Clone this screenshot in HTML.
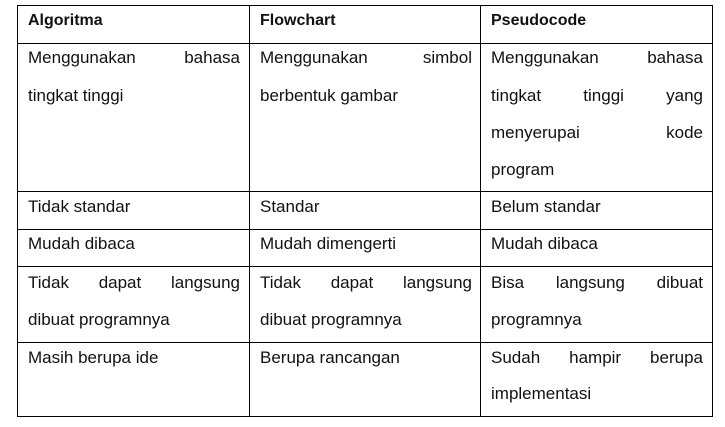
<!DOCTYPE html>
<html><head><meta charset="utf-8"><style>
body{margin:0;width:725px;height:427px;background:#fff;position:relative;overflow:hidden;font-family:"Liberation Sans",sans-serif;font-size:17px;color:#111}
.h{position:absolute;height:1px;background:#000;left:17px;width:696px}
.v{position:absolute;width:1px;background:#000;top:5px;height:412px}
.t{position:absolute;height:20px;line-height:20px;white-space:nowrap}
.j{text-align:justify;text-align-last:justify;white-space:normal}
.b{font-weight:bold;font-size:16px}
.c1{left:28px;width:212px}.c2{left:260px;width:212px}.c3{left:491px;width:212px}
</style></head><body>
<div class="h" style="top:5px"></div>
<div class="h" style="top:43px"></div>
<div class="h" style="top:191px"></div>
<div class="h" style="top:229px"></div>
<div class="h" style="top:266px"></div>
<div class="h" style="top:342px"></div>
<div class="h" style="top:416px"></div>
<div class="v" style="left:17px"></div>
<div class="v" style="left:249px"></div>
<div class="v" style="left:480px"></div>
<div class="v" style="left:712px"></div>

<div class="t b c1" style="top:11px">Algoritma</div>
<div class="t b c2" style="top:11px">Flowchart</div>
<div class="t b c3" style="top:11px">Pseudocode</div>

<div class="t j c1" style="top:48px">Menggunakan bahasa</div>
<div class="t c1" style="top:86px">tingkat tinggi</div>
<div class="t j c2" style="top:48px">Menggunakan simbol</div>
<div class="t c2" style="top:86px">berbentuk gambar</div>
<div class="t j c3" style="top:48px">Menggunakan bahasa</div>
<div class="t j c3" style="top:86px">tingkat tinggi yang</div>
<div class="t j c3" style="top:123px">menyerupai kode</div>
<div class="t c3" style="top:160px">program</div>

<div class="t c1" style="top:197px">Tidak standar</div>
<div class="t c2" style="top:197px">Standar</div>
<div class="t c3" style="top:197px">Belum standar</div>

<div class="t c1" style="top:234px">Mudah dibaca</div>
<div class="t c2" style="top:234px">Mudah dimengerti</div>
<div class="t c3" style="top:234px">Mudah dibaca</div>

<div class="t j c1" style="top:273px">Tidak dapat langsung</div>
<div class="t c1" style="top:310px">dibuat programnya</div>
<div class="t j c2" style="top:273px">Tidak dapat langsung</div>
<div class="t c2" style="top:310px">dibuat programnya</div>
<div class="t j c3" style="top:273px">Bisa langsung dibuat</div>
<div class="t c3" style="top:310px">programnya</div>

<div class="t c1" style="top:348px">Masih berupa ide</div>
<div class="t c2" style="top:348px">Berupa rancangan</div>
<div class="t j c3" style="top:348px">Sudah hampir berupa</div>
<div class="t c3" style="top:384px">implementasi</div>
</body></html>
